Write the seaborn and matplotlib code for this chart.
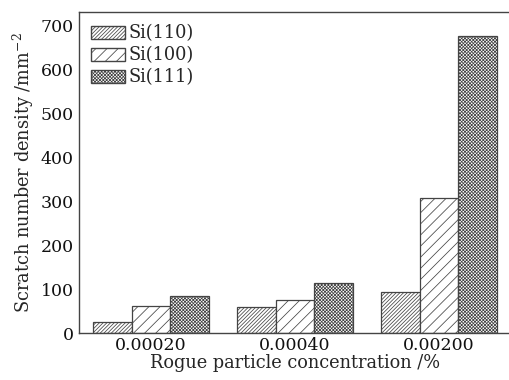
import matplotlib
matplotlib.use("Agg")
import matplotlib.pyplot as plt
import matplotlib.patches as mpatches
import seaborn as sns
import pandas as pd

concentrations = ["0.00020", "0.00040", "0.00200"]
series_names = ["Si(110)", "Si(100)", "Si(111)"]
si110 = [25, 60, 94]
si100 = [62, 74, 308]
si111 = [85, 114, 675]

df = pd.DataFrame({
    "conc": concentrations * 3,
    "series": [s for s in series_names for _ in concentrations],
    "value": si110 + si100 + si111,
})

sns.set_theme(style="white")
plt.rcParams["font.family"] = ["DejaVu Serif"]
plt.rcParams["mathtext.fontset"] = "dejavuserif"
plt.rcParams["hatch.linewidth"] = 0.55
plt.rcParams["hatch.color"] = "#555555"

fig = plt.figure(figsize=(5.1, 3.8), dpi=100)
ax = fig.add_axes([79 / 510, 1 - 333 / 380, (511 - 79) / 510, (333 - 12) / 380])

sns.barplot(data=df, x="conc", y="value", hue="series", order=concentrations,
            hue_order=series_names, width=0.8, ax=ax, legend=False,
            palette=["white"] * 3, saturation=1,
            edgecolor="#444444", linewidth=0.9)

hatches = ["/////////", "///", "xxxxxxxxxx"]
for cont, h in zip(ax.containers, hatches):
    for bar in cont:
        bar.set_hatch(h)
        bar.set_facecolor("white")
        bar.set_edgecolor("#444444")

ax.set_xlim(-0.5, 2.5)
ax.set_ylim(0, 730)
ax.set_yticks(range(0, 701, 100))
ax.set_xlabel("Rogue particle concentration /%", fontsize=12.8, labelpad=0)
ax.set_ylabel("Scratch number density /mm$^{-2}$", fontsize=12.8, labelpad=3)
ax.tick_params(axis="y", direction="in", length=4, width=0.9, colors="#333333",
               labelsize=12.5, pad=4, labelcolor="#111111")
ax.tick_params(axis="x", length=0, labelsize=12.5, pad=3, labelcolor="#111111")

for side in ["left", "bottom", "top"]:
    ax.spines[side].set_color("#444444")
    ax.spines[side].set_linewidth(1.0)
ax.spines["right"].set_visible(False)
ax.spines["right"].set_color("none")
ax.patch.set_edgecolor("none")

handles = [mpatches.Patch(facecolor="white", edgecolor="#444444", hatch=h, label=n)
           for h, n in zip(hatches, series_names)]
ax.legend(handles=handles, loc="upper left", frameon=False, fontsize=12.8,
          handlelength=1.9, handleheight=0.75, handletextpad=0.2,
          labelspacing=0.22, borderaxespad=0.3, bbox_to_anchor=(0.0, 1.0))

fig.savefig("out.png", dpi=100)
